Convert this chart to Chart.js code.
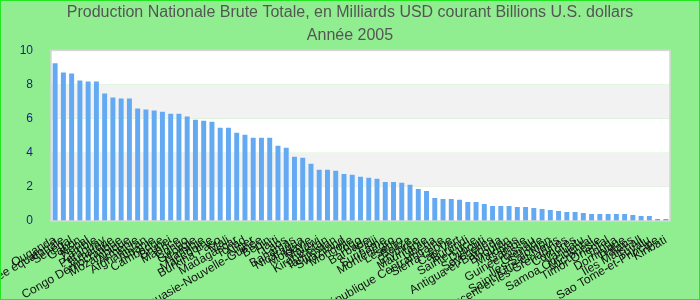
<!DOCTYPE html>
<html>
<head>
<meta charset="utf-8">
<script src="https://cdn.jsdelivr.net/npm/chart.js@4.4.1/dist/chart.umd.min.js"></script>
<style>
  html, body { margin: 0; padding: 0; background: #90EE90; }
  #wrap { width: 700px; height: 300px; box-sizing: border-box; border: 1px solid #22e622; background: #90EE90; position: relative; }
  canvas { display: block; }
</style>
</head>
<body>
<div id="wrap"><canvas id="c" width="698" height="298"></canvas></div>
<script>
const titleLines = ["Production Nationale Brute Totale, en Milliards USD courant Billions U.S. dollars", "Année 2005"];

const countries = [
  "Ouganda", "Guinée équatoriale", "Sénégal", "Gabon", "Népal", "Zambie",
  "Paraguay", "Jamaïque", "Congo Démocratique", "Mozambique", "Arménie", "Afghanistan",
  "Albanie", "Cambodge", "Brunei", "Maurice", "Congo", "Géorgie",
  "Namibie", "Macédoine", "Burkina Faso", "Mali", "Madagascar", "Tchad",
  "Niger", "Papouasie-Nouvelle-Guinée", "Bénin", "Haïti", "Laos", "Bahamas",
  "Nicaragua", "Moldavie", "Malawi", "Kirghizistan", "Tadjikistan", "Swaziland",
  "Mongolie", "Togo", "Barbade", "Fidji", "Suriname", "Monténégro",
  "Lesotho", "Belize", "Érythrée", "Mauritanie", "Libéria", "République Centrafricaine",
  "Sierra Leone", "Cap-Vert", "Burundi", "Sainte-Lucie", "Djibouti", "Seychelles",
  "Antigua-et-Barbuda", "Bhoutan", "Maldives", "Gambie", "Guinée-Bissau", "Grenade",
  "Îles Salomon", "Saint-Kitts-et-Nevis", "Saint-Vincent-et-les-Grenadines", "Comores", "Vanuatu", "Samoa Occidental",
  "Micronésie", "Timor-Oriental", "Tonga", "Dominique", "Palaos", "Îles Marshall",
  "Tuvalu", "Sao Tome-et-Principe", "Kiribati"
];

const gnp2005 = [
  9.24, 8.71, 8.65, 8.24, 8.18, 8.18,
  7.47, 7.24, 7.18, 7.18, 6.59, 6.53,
  6.47, 6.41, 6.29, 6.29, 6.12, 5.94,
  5.88, 5.82, 5.47, 5.47, 5.18, 5.06,
  4.88, 4.88, 4.88, 4.41, 4.29, 3.76,
  3.71, 3.35, 3.00, 3.00, 2.94, 2.76,
  2.71, 2.59, 2.53, 2.47, 2.29, 2.29,
  2.24, 2.12, 1.88, 1.76, 1.35, 1.29,
  1.29, 1.24, 1.12, 1.12, 1.00, 0.88,
  0.88, 0.88, 0.82, 0.82, 0.76, 0.71,
  0.65, 0.59, 0.53, 0.53, 0.47, 0.41,
  0.41, 0.41, 0.41, 0.41, 0.35, 0.29,
  0.29, 0.12, 0.12
];

const yTicks = [0, 2, 4, 6, 8, 10];

const bandPlugin = {
  id: 'bands',
  beforeDraw(chart) {
    const { ctx, chartArea: a, scales: { y } } = chart;
    ctx.save();
    for (let i = 0; i < yTicks.length - 1; i++) {
      const top = y.getPixelForValue(yTicks[i + 1]);
      const bot = y.getPixelForValue(yTicks[i]);
      ctx.fillStyle = (i % 2 === 1) ? '#f2f2f2' : '#ffffff';
      ctx.fillRect(a.left, top, a.right - a.left, bot - top);
    }
    ctx.restore();
  },
  afterDraw(chart) {
    const { ctx, chartArea: a } = chart;
    ctx.save();
    ctx.strokeStyle = '#d6d6d6';
    ctx.lineWidth = 1.5;
    ctx.strokeRect(a.left, a.top, a.right - a.left, a.bottom - a.top);
    ctx.restore();
  }
};

new Chart(document.getElementById('c'), {
  type: 'bar',
  data: {
    labels: countries,
    datasets: [{
      data: gnp2005,
      backgroundColor: 'rgb(99,170,242)',
      borderWidth: 0,
      barPercentage: 0.6,
      categoryPercentage: 1.0
    }]
  },
  options: {
    responsive: false,
    animation: false,
    layout: { padding: { left: 0, right: 0, top: 0, bottom: 0 } },
    plugins: {
      legend: { display: false },
      tooltip: { enabled: false },
      title: {
        display: true,
        text: titleLines,
        color: '#555555',
        font: { family: '"Liberation Sans", Arial, sans-serif', size: 16, weight: 'normal', lineHeight: 1.45 },
        padding: { top: 0, bottom: 3 }
      }
    },
    scales: {
      x: {
        grid: { display: false },
        border: { display: false },
        ticks: {
          autoSkip: false,
          maxRotation: 30,
          minRotation: 30,
          color: '#111111',
          padding: 4,
          font: { family: '"Liberation Sans", Arial, sans-serif', size: 12 }
        },
        afterFit(s) { s.height = 78; }
      },
      y: {
        min: 0,
        max: 10,
        grid: { display: false },
        border: { display: false },
        ticks: {
          stepSize: 2,
          color: '#1c1c8c',
          padding: 10,
          font: { family: '"Liberation Sans", Arial, sans-serif', size: 12 }
        },
        afterFit(s) { s.width = 50; }
      },
      yr: {
        position: 'right',
        min: 0,
        max: 10,
        grid: { display: false },
        border: { display: false },
        ticks: { display: false },
        afterFit(s) { s.width = 29; }
      }
    }
  },
  plugins: [bandPlugin]
});
</script>
</body>
</html>
